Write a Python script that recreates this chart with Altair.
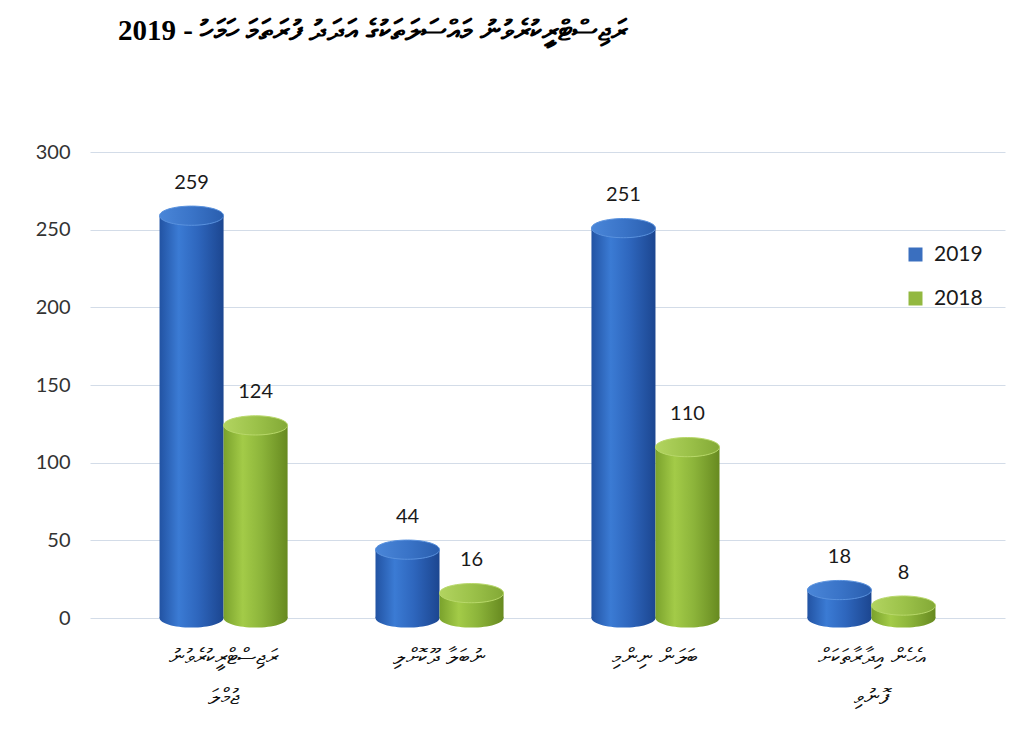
import altair as alt
import pandas as pd

# ---- data ----
categories = [
    "ރަޖިސްޓްރީކުރެވުނު|ޖުމްލަ",
    "ނުބަލާ ދޫކޮށްލި",
    "ބަލަން ނިންމި",
    "އެހެން އިދާރާތަކަށް|ފޮނުވި",
]
years = ["2019", "2018"]
values_2019 = [259, 44, 251, 18]
values_2018 = [124, 16, 110, 8]
y_ticks = [0, 50, 100, 150, 200, 250, 300]
title_text = "2019 - ރަޖިސްޓްރީކުރެވުނު މައްސަލަތަކުގެ އަދަދު ފުރަތަމަ ހަމަހު"

rows = []
for c, a, b in zip(categories, values_2019, values_2018):
    rows.append({"category": c, "year": "2019", "value": a})
    rows.append({"category": c, "year": "2018", "value": b})
df = pd.DataFrame(rows)

def grad(stops):
    return {
        "gradient": "linear", "x1": 0, "y1": 0, "x2": 1, "y2": 0,
        "stops": [{"offset": o, "color": c} for o, c in stops],
    }

blue_body = grad([(0, "#2253a3"), (0.3, "#3b7bd4"), (0.6, "#2e66bd"), (1, "#1c4690")])
green_body = grad([(0, "#7aa22c"), (0.3, "#a3cb48"), (0.6, "#8cb43a"), (1, "#678a20")])
blue_top = grad([(0, "#4a86d8"), (0.5, "#3a74c8"), (1, "#2a5eae")])
green_top = grad([(0, "#b2d460"), (0.5, "#9cc24a"), (1, "#83a936")])

is2019 = "datum.year == '2019'"
ellipse = "M -1 0 A 1 0.3 0 1 1 1 0 A 1 0.3 0 1 1 -1 0 Z"
bar_px = 64

x_enc = alt.X(
    "category:N", sort=categories, title=None,
    scale=alt.Scale(paddingInner=0.407, paddingOuter=0.322),
    axis=alt.Axis(
        labelExpr="split(datum.label, '|')", labelAngle=0, labelFontSize=22,
        labelFont="DejaVu Sans", labelColor="#111111", labelPadding=28,
        labelLineHeight=40, labelLimit=400, domain=False, ticks=False,
        labelBaseline="top", grid=False,
    ),
)
xo_enc = alt.XOffset("year:N", sort=years, scale=alt.Scale(paddingInner=0, paddingOuter=0))
y_scale = alt.Scale(domain=[0, 300])
y_enc = alt.Y(
    "value:Q", scale=y_scale, title=None,
    axis=alt.Axis(values=y_ticks, labelFontSize=20, labelFont="Lato", labelColor="#333333",
                  labelPadding=20, domain=False, ticks=False, grid=True,
                  gridColor="#d3dce8", gridWidth=1, gridOpacity=1),
)

base = alt.Chart(df).encode(x=x_enc, xOffset=xo_enc)

bottoms = base.mark_point(shape=ellipse, filled=True, size=bar_px * bar_px, opacity=1).encode(
    y=alt.datum(0, scale=y_scale),
    color=alt.condition(is2019, alt.value(blue_body), alt.value(green_body)),
)
bars = base.mark_bar().encode(
    y=y_enc,
    y2=alt.datum(0),
    color=alt.condition(is2019, alt.value(blue_body), alt.value(green_body)),
)
tops = base.mark_point(shape=ellipse, filled=True, size=bar_px * bar_px, opacity=1,
                       strokeWidth=1).encode(
    y="value:Q",
    color=alt.condition(is2019, alt.value(blue_top), alt.value(green_top)),
    stroke=alt.condition(is2019, alt.value("#5a92de"), alt.value("#b8d86a")),
)
labels = base.mark_text(fontSize=20, font="Lato", color="#1a1a1a", dy=-27,
                        baseline="alphabetic").encode(
    y="value:Q", text="value:Q",
)
legend_layer = base.mark_square(opacity=0).encode(
    y="value:Q",
    fill=alt.Fill(
        "year:N",
        scale=alt.Scale(domain=years, range=["#3a6fbf", "#92b840"]),
        legend=alt.Legend(
            title=None, orient="none", legendX=815, legendY=92,
            symbolType="square", symbolSize=196, symbolOpacity=1, symbolStrokeWidth=0,
            labelFontSize=21, labelFont="Lato", labelColor="#1a1a1a",
            rowPadding=22, labelOffset=8,
        ),
    ),
)

chart = alt.layer(bottoms, bars, tops, labels, legend_layer).properties(
    width=915, height=466,
    background="white",
    autosize=alt.AutoSizeParams(type="none"),
    padding={"left": 90, "top": 152, "right": 19, "bottom": 121},
    title=alt.TitleParams(
        text=title_text, anchor="start", dx=28, offset=73, baseline="alphabetic",
        font="Liberation Serif", fontSize=29, fontWeight="bold", color="#000000",
        frame="group",
    ),
).configure_view(strokeWidth=0)

chart.save("out.html", embed_options={"renderer": "svg", "actions": False})
